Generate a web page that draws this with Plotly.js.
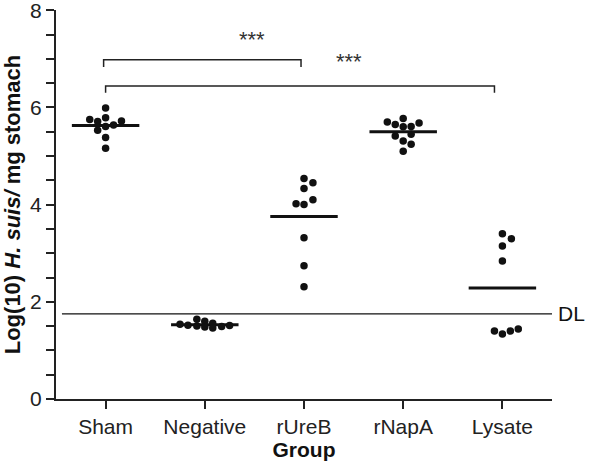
<!DOCTYPE html>
<html>
<head>
<meta charset="utf-8">
<script src="https://cdn.plot.ly/plotly-3.0.1.min.js"></script>
<style>
  html, body { margin: 0; padding: 0; background: #fff; }
  #plot { width: 600px; height: 467px; }
</style>
</head>
<body>
<div id="plot"></div>
<script>
// groups on the x axis
var groups = ['Sham', 'Negative', 'rUreB', 'rNapA', 'Lysate'];

// log10 H. suis per mg stomach, one value per animal
var sham     = [5.99, 5.79, 5.75, 5.71, 5.72, 5.64, 5.61, 5.53, 5.38, 5.16];
var negative = [1.64, 1.60, 1.56, 1.54, 1.52, 1.50, 1.48, 1.46, 1.49, 1.51];
var rUreB    = [4.54, 4.45, 4.33, 4.10, 4.02, 4.00, 3.32, 2.74, 2.31];
var rNapA    = [5.77, 5.70, 5.68, 5.65, 5.60, 5.61, 5.41, 5.45, 5.31, 5.24, 5.10];
var lysate   = [3.40, 3.30, 3.15, 2.84, 1.40, 1.34, 1.40, 1.44];

// horizontal scatter of the dots (category units) so they don't overlap
var shamJit     = [0, 0, -0.16, -0.08, 0.16, 0.08, 0, -0.08, 0, 0];
var negativeJit = [-0.08, 0, 0.08, -0.25, -0.17, -0.08, 0, 0.08, 0.17, 0.25];
var rUreBJit    = [0, 0.09, 0, 0.09, -0.08, 0, 0, 0, 0];
var rNapAJit    = [0, -0.16, 0.16, -0.08, 0, 0.08, -0.08, 0.08, 0, 0.08, 0];
var lysateJit   = [0, 0.09, 0, 0, -0.08, 0, 0.08, 0.16];

var detectionLimit = 1.75;

var allData = [sham, negative, rUreB, rNapA, lysate];
var allJit = [shamJit, negativeJit, rUreBJit, rNapAJit, lysateJit];

function mean(a) {
    var s = 0;
    for (var i = 0; i < a.length; i++) s += a[i];
    return s / a.length;
}

var traces = [];
var halfW = 0.34; // half length of the mean bar

for (var g = 0; g < allData.length; g++) {
    var xs = [];
    for (var k = 0; k < allData[g].length; k++) xs.push(g + allJit[g][k]);
    // mean bar
    var m = mean(allData[g]);
    traces.push({
        x: [g - halfW, g + halfW],
        y: [m, m],
        mode: 'lines',
        line: { color: '#111', width: 3 },
        hoverinfo: 'skip',
        showlegend: false
    });
    // dots
    traces.push({
        x: xs,
        y: allData[g],
        name: groups[g],
        mode: 'markers',
        marker: { color: '#111', size: 7.5 },
        showlegend: false
    });
}

var fontFam = '"Liberation Sans", Arial, sans-serif';

var layout = {
    width: 600,
    height: 467,
    margin: { l: 56, r: 48, t: 10, b: 68 },
    paper_bgcolor: '#fff',
    plot_bgcolor: '#fff',
    font: { family: fontFam, color: '#222', size: 21 },
    showlegend: false,
    xaxis: {
        range: [-0.5, 4.5],
        tickvals: [0, 1, 2, 3, 4],
        ticktext: groups,
        showgrid: false,
        zeroline: false,
        showline: true,
        linecolor: '#222',
        linewidth: 2,
        ticks: 'outside',
        ticklen: 8,
        tickwidth: 2,
        tickcolor: '#222',
        tickfont: { size: 21 },
        title: { text: '<b>Group</b>', font: { size: 21, color: '#111' }, standoff: 2 }
    },
    yaxis: {
        range: [0, 8.005],
        tickvals: [0, 2, 4, 6, 8],
        ticklabeloverflow: 'allow',
        showgrid: false,
        zeroline: false,
        showline: true,
        linecolor: '#222',
        linewidth: 2,
        ticks: 'outside',
        ticklen: 8,
        tickwidth: 2,
        tickcolor: '#222',
        tickfont: { size: 21 },
        minor: { dtick: 0.5, ticks: 'outside', ticklen: 8, tickwidth: 2, tickcolor: '#222', showgrid: false },
        title: {
            text: '<b>Log(10) <i>H. suis/</i> mg stomach</b>',
            font: { size: 22, color: '#111' },
            standoff: 8
        }
    },
    shapes: [
        // detection limit
        { type: 'line', xref: 'paper', yref: 'y', x0: 0.012, x1: 1.0, y0: detectionLimit, y1: detectionLimit,
          line: { color: '#111', width: 1.2 } },
        // Sham vs rUreB bracket
        { type: 'path', xref: 'x', yref: 'y', path: 'M -0.02,6.83 L -0.02,6.98 L 1.97,6.98 L 1.97,6.83',
          line: { color: '#222', width: 1.5 } },
        // Sham vs Lysate bracket
        { type: 'path', xref: 'x', yref: 'y', path: 'M 0,6.30 L 0,6.44 L 3.92,6.44 L 3.92,6.30',
          line: { color: '#222', width: 1.5 } }
    ],
    annotations: [
        { text: 'DL', xref: 'paper', yref: 'y', x: 1.0, y: detectionLimit, xanchor: 'left', xshift: 4,
          showarrow: false, font: { size: 21, color: '#111' } },
        { text: '***', xref: 'x', yref: 'y', x: 1.48, y: 7.40, showarrow: false,
          font: { size: 22, color: '#333' } },
        { text: '***', xref: 'x', yref: 'y', x: 2.45, y: 6.95, showarrow: false,
          font: { size: 22, color: '#333' } }
    ]
};

Plotly.newPlot('plot', traces, layout, { displayModeBar: false, staticPlot: true });
</script>
</body>
</html>
